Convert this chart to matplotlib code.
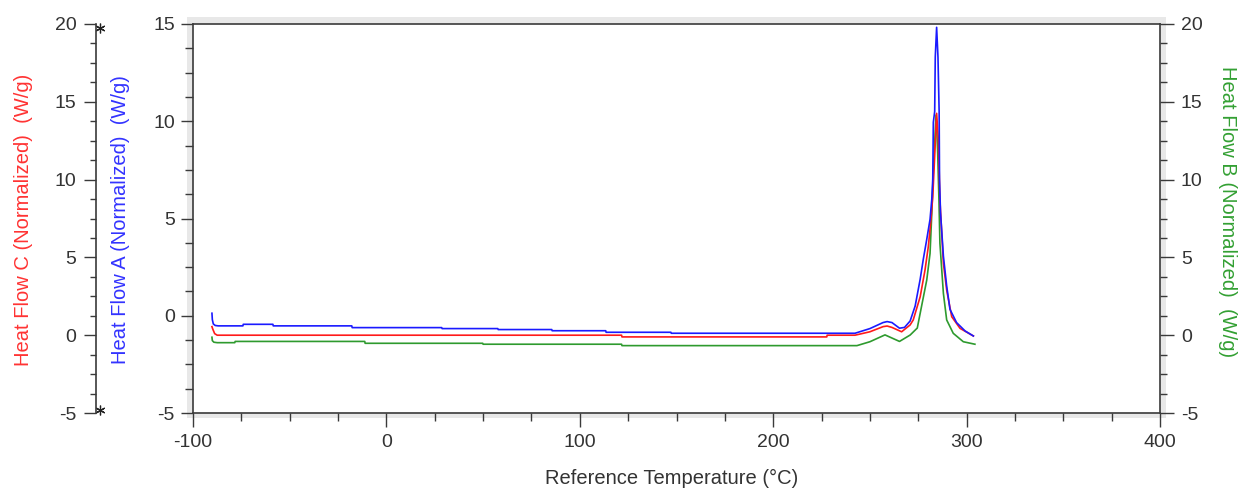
import matplotlib.pyplot as plt
from matplotlib.ticker import MultipleLocator
from matplotlib.patches import Rectangle
from matplotlib.transforms import blended_transform_factory

plt.rcParams['font.family'] = ['Liberation Sans', 'DejaVu Sans']
plt.rcParams['axes.unicode_minus'] = False

# Heat Flow A (blue, inner left axis)
temp_a = [-90.2, -90.0, -89.5, -88.5, -87.0, -74.2, -74.0, -58.7, -58.5,
          -17.9, -17.7, 28.6, 28.8, 57.6, 57.8, 85.5, 85.7, 113.4, 113.6,
          147.1, 147.3, 242.3, 250.0, 256.8, 258.9, 261.4, 265.3, 267.9,
          270.8, 273.4, 276.0, 277.6, 279.4, 281.1, 282.0, 282.5, 282.8,
          283.5, 283.8, 284.5, 285.2, 285.8, 286.0, 286.5, 288.0, 289.7,
          291.4, 294.8, 299.2, 303.5]
flow_a = [0.13, -0.2, -0.42, -0.5, -0.52, -0.52, -0.44, -0.44, -0.52,
          -0.52, -0.61, -0.61, -0.66, -0.66, -0.71, -0.71, -0.77, -0.77, -0.85,
          -0.85, -0.90, -0.90, -0.66, -0.35, -0.30, -0.35, -0.64, -0.60,
          -0.27, 0.50, 1.88, 2.90, 3.93, 4.96, 5.99, 7.02, 9.95,
          10.5, 13.3, 14.83, 13.3, 10.5, 7.02, 5.31, 3.07, 1.53,
          0.33, -0.35, -0.78, -1.04]

# Heat Flow C (red, outer left axis)
temp_c = [-90.2, -89.8, -88.8, -87.5, 121.6, 121.8, 227.7, 227.9, 242.3,
          250.0, 256.8, 258.9, 261.4, 266.4, 270.8, 272.4, 276.0, 278.5,
          280.2, 281.4, 282.5, 283.4, 284.5, 285.4, 286.2, 288.0, 289.7,
          292.3, 296.6, 303.5]
flow_c = [0.55, 0.4, 0.1, 0.0, 0.0, -0.11, -0.11, 0.0, 0.0,
          0.22, 0.55, 0.59, 0.50, 0.22, 0.66, 0.98, 2.47, 4.19,
          5.69, 7.19, 8.90, 11.26, 14.26, 12.54, 8.7, 4.62, 2.90,
          1.19, 0.44, -0.05]

# Heat Flow B (green, right axis)
temp_b = [-90.2, -90.0, -89.2, -87.5, -78.4, -78.2, -11.2, -11.0, 49.8, 50.0,
          121.6, 121.8, 243.3, 250.0, 257.8, 265.3, 270.8, 274.5, 276.0,
          279.4, 281.1, 282.0, 282.8, 284.2, 285.0, 285.7, 286.2, 288.0,
          289.7, 293.1, 298.3, 304.3]
flow_b = [-0.13, -0.35, -0.45, -0.48, -0.48, -0.40, -0.40, -0.52, -0.52, -0.58,
          -0.58, -0.67, -0.67, -0.42, 0.02, -0.40, 0.01, 0.46, 1.41,
          3.55, 5.26, 7.83, 10.6, 14.15, 11.9, 8.7, 5.91, 2.69,
          0.98, 0.12, -0.42, -0.58]

W, H = 1249, 488
fig = plt.figure(figsize=(W / 100, H / 100), dpi=100)
ax = fig.add_axes([193 / W, 1 - 413 / H, 967 / W, 389 / H])
ax_c = ax.twinx()
ax_b = ax.twinx()

# frame shading behind the plot area
fig.add_artist(Rectangle((187 / W, 1 - 418 / H), 979 / W, 401 / H,
                         transform=fig.transFigure, facecolor='#e8e8e8',
                         edgecolor='none', zorder=-2))
fig.add_artist(Rectangle((193 / W, 1 - 413 / H), 967 / W, 389 / H,
                         transform=fig.transFigure, facecolor='white',
                         edgecolor='none', zorder=-1))

ax.set_zorder(3)
ax.patch.set_visible(False)
ax_c.set_zorder(2)
ax_b.set_zorder(1)

ax_b.plot(temp_b, flow_b, color='#2e9a2e', lw=1.2)
ax_c.plot(temp_c, flow_c, color='#ff1a1a', lw=1.2)
ax.plot(temp_a, flow_a, color='#1a1aff', lw=1.2)

ax.set_xlim(-100, 400)
ax.set_ylim(-5, 15)
ax_c.set_ylim(-5, 20)
ax_b.set_ylim(-5, 20)

spine_col = '#3a3a3a'
tick_col = '#333333'

# main axis (A) + frame
for s in ['left', 'bottom', 'top']:
    ax.spines[s].set_color(spine_col)
    ax.spines[s].set_linewidth(1.2)
ax.spines['right'].set_visible(False)
ax.xaxis.set_major_locator(MultipleLocator(100))
ax.xaxis.set_minor_locator(MultipleLocator(25))
ax.yaxis.set_major_locator(MultipleLocator(5))
ax.yaxis.set_minor_locator(MultipleLocator(1.25))
ax.tick_params(axis='both', which='both', colors=spine_col, labelcolor=tick_col,
               labelsize=14, top=False, right=False, width=1)
ax.tick_params(axis='x', which='major', length=10, pad=5)
ax.tick_params(axis='x', which='minor', length=6)
ax.tick_params(axis='y', which='major', length=9, pad=4)
ax.tick_params(axis='y', which='minor', length=6)

# outer left axis (C)
for s in ['right', 'top', 'bottom']:
    ax_c.spines[s].set_visible(False)
ax_c.spines['left'].set_visible(True)
ax_c.spines['left'].set_position(('axes', -97 / 967))
ax_c.spines['left'].set_color(spine_col)
ax_c.spines['left'].set_linewidth(1.2)
ax_c.yaxis.set_ticks_position('left')
ax_c.yaxis.set_major_locator(MultipleLocator(5))
ax_c.yaxis.set_minor_locator(MultipleLocator(1.25))
ax_c.tick_params(axis='y', which='both', colors=spine_col, labelcolor=tick_col,
                 labelsize=14, width=1)
ax_c.tick_params(axis='y', which='major', length=9, pad=5)
ax_c.tick_params(axis='y', which='minor', length=4)

# asterisk end markers on the C axis
trans = blended_transform_factory(fig.transFigure, ax_c.transData)
ax_c.plot([99.5 / W, 99.5 / W], [19.72, -4.82], ls='none', marker=(6, 2, 0),
          ms=7, mew=0.9, color='#222222', transform=trans, clip_on=False)

# right axis (B)
for s in ['left', 'top', 'bottom']:
    ax_b.spines[s].set_visible(False)
ax_b.spines['right'].set_color(spine_col)
ax_b.spines['right'].set_linewidth(1.2)
ax_b.yaxis.set_major_locator(MultipleLocator(5))
ax_b.yaxis.set_minor_locator(MultipleLocator(1.25))
ax_b.tick_params(axis='y', which='both', colors=spine_col, labelcolor=tick_col,
                 labelsize=14, width=1)
ax_b.tick_params(axis='y', which='major', length=10, pad=5)
ax_b.tick_params(axis='y', which='minor', length=5)

# axis titles
fig.text(23.5 / W, 1 - 220 / H, 'Heat Flow C (Normalized)  (W/g)', rotation=90,
         ha='center', va='center', fontsize=14.5, color='#ff3333')
fig.text(120 / W, 1 - 220 / H, 'Heat Flow A (Normalized)  (W/g)', rotation=90,
         ha='center', va='center', fontsize=14.5, color='#3333ff')
fig.text(1228 / W, 1 - 211.5 / H, 'Heat Flow B (Normalized)  (W/g)', rotation=270,
         ha='center', va='center', fontsize=14.5, color='#33a033')
fig.text(672 / W, 1 - 478 / H, 'Reference Temperature (°C)',
         ha='center', va='center', fontsize=14.5, color=tick_col)

fig.savefig('out.png', dpi=100)
